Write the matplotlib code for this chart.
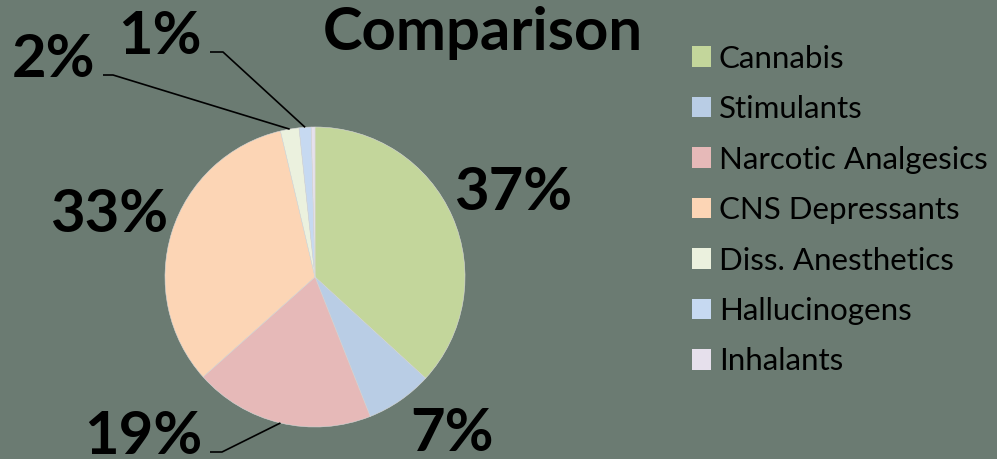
import numpy as np
import matplotlib.pyplot as plt

# Data (percent shares)
categories = ['Cannabis', 'Stimulants', 'Narcotic Analgesics', 'CNS Depressants',
              'Diss. Anesthetics', 'Hallucinogens', 'Inhalants']
shares = [36.8, 7.2, 19.4, 32.9, 2.0, 1.3, 0.4]
colors = ['#c3d69b', '#b9cde5', '#e6b9b8', '#fcd5b5', '#ebf1de', '#c6d9f1', '#e6e0ec']
label_text = ['37%', '7%', '19%', '33%', '2%', '1%', '']

bg = '#6b7b72'
W, H = 997, 459
plt.rcParams['font.family'] = ['Lato', 'DejaVu Sans']

fig = plt.figure(figsize=(W / 100, H / 100), dpi=100, facecolor=bg)
ax = fig.add_axes([0, 0, 1, 1])
ax.set_facecolor(bg)

cx, cy, R = 315, H - 277, 150
wedges, _ = ax.pie(shares, colors=colors, startangle=90, counterclock=False,
                   center=(cx, cy), radius=R, frame=True,
                   wedgeprops=dict(edgecolor='#d9d9d9', linewidth=0.4))
ax.set_xlim(0, W)
ax.set_ylim(0, H)
ax.set_aspect('equal')
ax.axis('off')

# label placement (pixels from top-left): radial distance for the big ones,
# a fixed spot for the 7% one, leader lines for the rest
radial = {0: 1.44, 3: 1.44}
fixed = {1: (452, 434)}
leaders = {2: [(222, 452), (210, 452)],
           4: [(113, 75), (103, 75)],
           5: [(223, 52), (210, 52)]}
for i, (w, txt) in enumerate(zip(wedges, label_text)):
    if not txt:
        continue
    mid = np.deg2rad((w.theta1 + w.theta2) / 2)
    if i in leaders:
        pts = [(cx + R * np.cos(mid), cy + R * np.sin(mid))]
        pts += [(x, H - y) for x, y in leaders[i]]
        xs, ys = zip(*pts)
        ax.plot(xs, ys, color='black', lw=1.2, solid_capstyle='butt')
        ax.text(xs[-1] - 8, ys[-1] - 2, txt, ha='right', va='baseline',
                fontsize=43, fontweight='bold', color='black')
    elif i in fixed:
        x, y = fixed[i]
        ax.text(x, H - y, txt, ha='center', va='center',
                fontsize=43, fontweight='bold', color='black')
    else:
        d = radial[i] * R
        ax.text(cx + d * np.cos(mid), cy + d * np.sin(mid) - 3, txt,
                ha='center', va='center', fontsize=43, fontweight='bold', color='black')

fig.text(483 / W, 1 - 33 / H, 'Comparison', ha='center', va='center',
         fontsize=43, fontweight='bold', color='black')

leg = ax.legend(wedges, categories, loc='upper left', bbox_to_anchor=(679 / W, 1 - 32 / H),
                bbox_transform=fig.transFigure, frameon=False, fontsize=22.5,
                handlelength=0.62, handleheight=0.62, handletextpad=0.25,
                labelspacing=0.72, borderaxespad=0)
for h in leg.legend_handles:
    h.set_edgecolor('none')

fig.savefig('out.png', dpi=100, facecolor=bg)
